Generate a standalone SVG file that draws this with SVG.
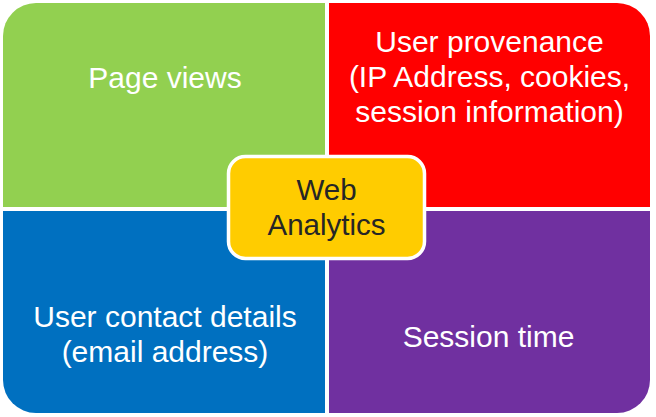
<svg xmlns="http://www.w3.org/2000/svg" width="656" height="417" viewBox="0 0 656 417">
<style>
.lbl{font-family:"Liberation Sans",Arial,sans-serif;font-size:30px;fill:#ffffff;text-anchor:middle}
.ctr{font-family:"Liberation Sans",Arial,sans-serif;font-size:29.5px;fill:#262626;text-anchor:middle}
</style>
<rect width="656" height="417" fill="#ffffff"/>
<g id="page-views">
<path d="M3,207 V36 A33,33 0 0 1 36,3 H325 V207 Z" fill="#92D050"/>
<text class="lbl" x="165" y="88">Page views</text>
</g>
<g id="user-provenance">
<path d="M329,3 H617 A33,33 0 0 1 650,36 V207 H329 Z" fill="#FF0000"/>
<text class="lbl" x="489.5" y="52">User provenance</text>
<text class="lbl" x="489.5" y="87">(IP Address, cookies,</text>
<text class="lbl" x="489.5" y="122">session information)</text>
</g>
<g id="user-contact">
<path d="M3,211 H325 V413 H36 A33,33 0 0 1 3,380 Z" fill="#0070C0"/>
<text class="lbl" x="165" y="327">User contact details</text>
<text class="lbl" x="165" y="362">(email address)</text>
</g>
<g id="session-time">
<path d="M329,211 H650 V380 A33,33 0 0 1 617,413 H329 Z" fill="#7030A0"/>
<text class="lbl" x="488.5" y="347">Session time</text>
</g>
<g id="connectors"></g>
<g id="web-analytics">
<rect x="228.5" y="156.5" width="196" height="102" rx="17" fill="#FFCC00" stroke="#ffffff" stroke-width="3.5"/>
<text class="ctr" x="326.5" y="200">Web</text>
<text class="ctr" x="326.5" y="235">Analytics</text>
</g>
</svg>
